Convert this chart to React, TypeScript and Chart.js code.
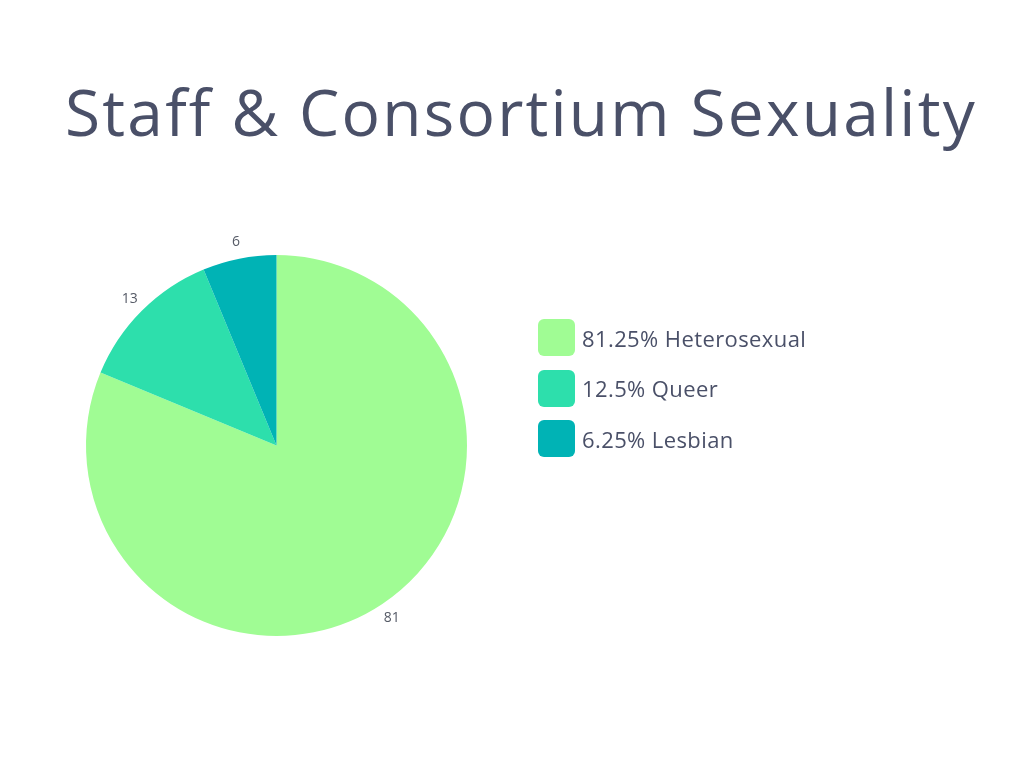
import React, { useEffect, useRef } from "react";
import { Chart, registerables } from "chart.js";

Chart.register(...registerables);

const TITLE = "Staff & Consortium Sexuality";
const categories = ["Heterosexual", "Queer", "Lesbian"];
const percentages = [81.25, 12.5, 6.25];
const sliceLabels = ["81", "13", "6"];
const legendLabels = ["81.25% Heterosexual", "12.5% Queer", "6.25% Lesbian"];
const colors = ["#a0fc94", "#2ddfac", "#00b3b5"];

const TEXT_COLOR = "#4a5068";
const FONT = "'Open Sans', 'Noto Sans', sans-serif";

const outsideLabels = {
  id: "outsideLabels",
  afterDatasetsDraw(chart: any) {
    const ctx = chart.ctx;
    const meta = chart.getDatasetMeta(0);
    ctx.save();
    ctx.font = `14px ${FONT}`;
    ctx.fillStyle = "#555a66";
    ctx.textAlign = "center";
    ctx.textBaseline = "middle";
    meta.data.forEach((arc: any, i: number) => {
      const p = arc.getProps(["x", "y", "startAngle", "endAngle", "outerRadius"], true);
      const mid = (p.startAngle + p.endAngle) / 2;
      const r = p.outerRadius + 17;
      ctx.fillText(sliceLabels[i], p.x + Math.cos(mid) * r, p.y + Math.sin(mid) * r);
    });
    ctx.restore();
  },
};

export default function App() {
  const ref = useRef<HTMLCanvasElement | null>(null);
  useEffect(() => {
    if (!ref.current) return;
    const chart = new Chart(ref.current, {
      type: "pie",
      data: {
        labels: categories,
        datasets: [
          {
            data: percentages,
            backgroundColor: colors,
            borderWidth: 0,
          },
        ],
      },
      options: {
        animation: false,
        responsive: false,
        maintainAspectRatio: false,
        layout: { padding: { left: 86, right: 557, top: 255, bottom: 132 } },
        plugins: {
          legend: { display: false },
          tooltip: { enabled: false },
          title: { display: false },
        },
      },
      plugins: [outsideLabels],
    });
    return () => chart.destroy();
  }, []);

  return (
    <div style={{ position: "absolute", left: 0, top: 0, width: 1024, height: 768, background: "#fff", overflow: "hidden" }}>
      <canvas ref={ref} width={1024} height={768} style={{ position: "absolute", left: 0, top: 0 }} />
      <div
        style={{
          position: "absolute",
          left: 0,
          width: 1042,
          top: 64,
          textAlign: "center",
          fontFamily: FONT,
          fontSize: 64,
          lineHeight: "96px",
          color: TEXT_COLOR,
          whiteSpace: "nowrap",
          letterSpacing: 2.2,
        }}
      >
        {TITLE}
      </div>
      {legendLabels.map((t, i) => (
        <div key={t} style={{ position: "absolute", left: 538, top: 319 + i * 50.5, display: "flex", alignItems: "center" }}>
          <div style={{ width: 37, height: 37, borderRadius: 6, background: colors[i] }} />
          <span style={{ marginLeft: 7, fontFamily: FONT, fontSize: 22, letterSpacing: 0.4, color: TEXT_COLOR, whiteSpace: "nowrap" }}>{t}</span>
        </div>
      ))}
    </div>
  );
}
